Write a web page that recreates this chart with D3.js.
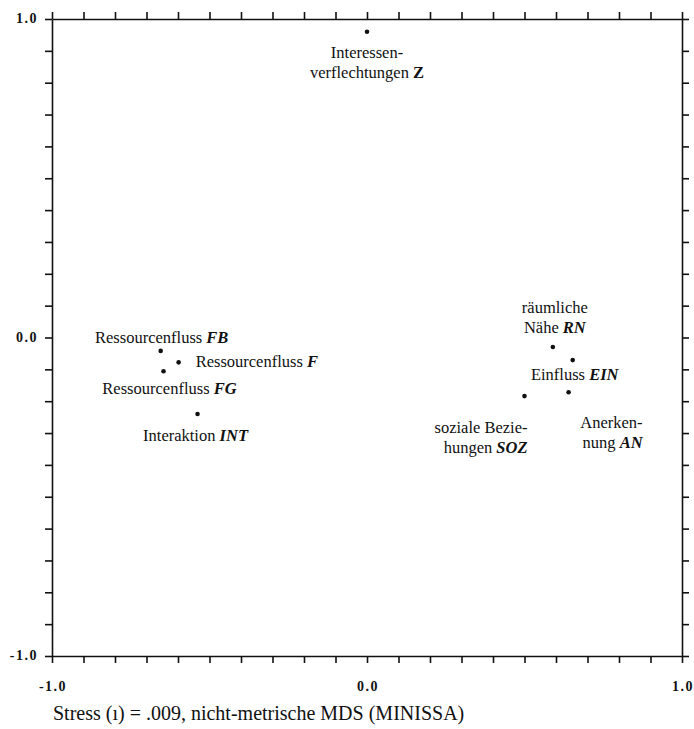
<!DOCTYPE html>
<html>
<head>
<meta charset="utf-8">
<script src="https://cdn.jsdelivr.net/npm/d3@7"></script>
<style>
  body { margin: 0; background: #fff; }
  text { font-family: "Liberation Serif", "DejaVu Serif", serif; fill: #111; }
  .axis path, .axis line { stroke: #111; stroke-width: 1.6; }
  .ticklab { font-size: 14px; font-weight: bold; letter-spacing: 1.5px; }
  .lab { font-size: 16.5px; }
  .code { font-weight: bold; font-style: italic; }
</style>
</head>
<body>
<svg width="694" height="729"></svg>
<script>
// MDS coordinates
var codes = ["Z", "FB", "F", "FG", "INT", "RN", "EIN", "SOZ", "AN"];
var names = [
    ["Interessen-", "verflechtungen "],
    ["Ressourcenfluss "],
    ["Ressourcenfluss "],
    ["Ressourcenfluss "],
    ["Interaktion "],
    ["räumliche", "Nähe "],
    ["Einfluss "],
    ["soziale Bezie-", "hungen "],
    ["Anerken-", "nung "]
];
var xs = [0.00, -0.655, -0.598, -0.646, -0.538, 0.590, 0.653, 0.500, 0.640];
var ys = [0.960, -0.042, -0.078, -0.106, -0.240, -0.030, -0.071, -0.184, -0.172];
var axisTicks = [-1, 0, 1];
var caption = "Stress (\u0131) = .009, nicht-metrische MDS (MINISSA)";

// label placement relative to the dot (px)
var place = {
    Z:   { dx: 0,  dy: 26,  anchor: "middle" },
    FB:  { dx: 1,  dy: -8,  anchor: "middle" },
    F:   { dx: 17, dy: 5,   anchor: "start" },
    FG:  { dx: 6,  dy: 23,  anchor: "middle" },
    INT: { dx: -2, dy: 27,  anchor: "middle" },
    RN:  { dx: 2,  dy: -34, anchor: "middle" },
    EIN: { dx: 2,  dy: 20,  anchor: "middle" },
    SOZ: { dx: 3,  dy: 37,  anchor: "end" },
    AN:  { dx: 74, dy: 36,  anchor: "end" }
};

var svg = d3.select("svg"),
    mLeft = 52, mRight = 682, mTop = 19, mBottom = 656;

var x = d3.scaleLinear().domain([-1, 1]).range([mLeft, mRight]);
var y = d3.scaleLinear().domain([-1, 1]).range([mBottom, mTop]);

var minor = d3.range(-10, 11).map(function (d) { return d / 10; });
var fmt = function (d) { return d3.format(".1f")(d).replace("\u2212", "-"); };

function frame(axis, tr) {
    return svg.append("g").attr("class", "axis").attr("transform", tr)
        .call(axis.tickValues(minor).tickSize(7).tickSizeOuter(0).tickFormat(""));
}
frame(d3.axisTop(x), "translate(0," + mTop + ")");
frame(d3.axisBottom(x), "translate(0," + mBottom + ")");
frame(d3.axisLeft(y), "translate(" + mLeft + ",0)");
frame(d3.axisRight(y), "translate(" + mRight + ",0)");

// tick labels
svg.selectAll(".ylab").data(axisTicks).enter().append("text")
    .attr("class", "ticklab")
    .attr("x", mLeft - 14)
    .attr("y", function (d) { return y(d) + 4; })
    .attr("text-anchor", "end")
    .text(fmt);
svg.selectAll(".xlab").data(axisTicks).enter().append("text")
    .attr("class", "ticklab")
    .attr("x", function (d) { return x(d) + 1; })
    .attr("y", mBottom + 35)
    .attr("text-anchor", "middle")
    .text(fmt);

// points
var pts = codes.map(function (c, i) {
    return { code: c, lines: names[i], x: xs[i], y: ys[i] };
});

svg.selectAll(".dot").data(pts).enter().append("circle")
    .attr("cx", function (d) { return x(d.x); })
    .attr("cy", function (d) { return y(d.y); })
    .attr("r", 2.3)
    .attr("fill", "#111");

pts.forEach(function (d) {
    var p = place[d.code];
    var t = svg.append("text")
        .attr("class", "lab")
        .attr("text-anchor", p.anchor)
        .attr("x", x(d.x) + p.dx)
        .attr("y", y(d.y) + p.dy);
    d.lines.forEach(function (line, i) {
        t.append("tspan").attr("x", x(d.x) + p.dx).attr("dy", i === 0 ? 0 : 20).text(line);
        if (i === d.lines.length - 1) {
            t.append("tspan").attr("class", "code")
                .style("font-style", d.code === "Z" ? "normal" : "italic")
                .text(d.code);
        }
    });
});

svg.append("text")
    .attr("x", mLeft + 1)
    .attr("y", 720)
    .style("font-size", "20px")
    .text(caption);
</script>
</body>
</html>
